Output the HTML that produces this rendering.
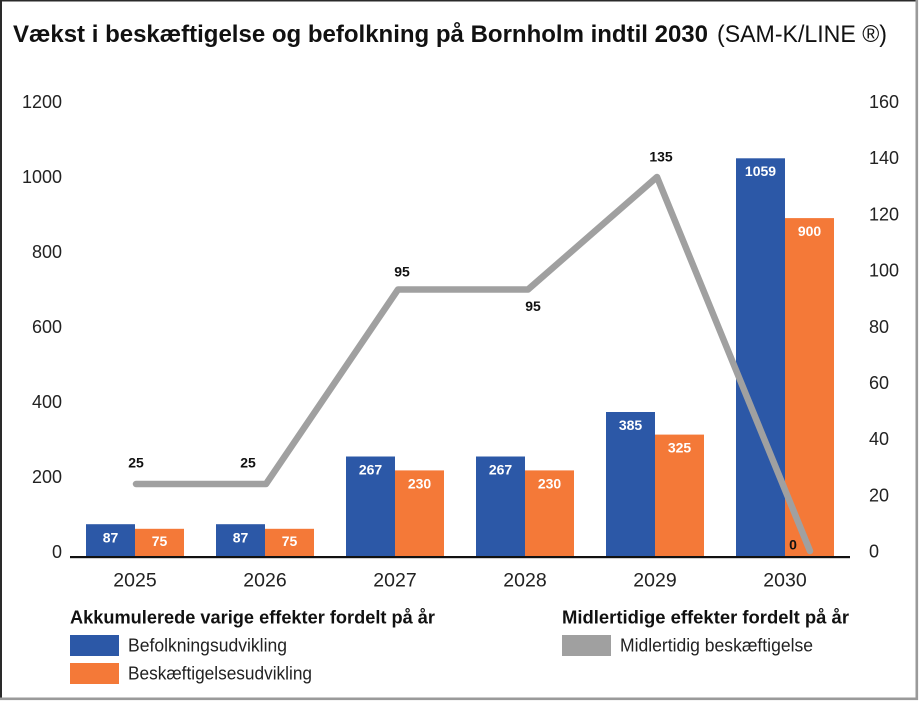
<!DOCTYPE html>
<html>
<head>
<meta charset="utf-8">
<style>
  html, body { margin: 0; padding: 0; background: #fff; }
  svg { display: block; }
  text { font-family: "Liberation Sans", "DejaVu Sans", sans-serif; }
</style>
</head>
<body>
<svg width="920" height="702" viewBox="0 0 920 702" xmlns="http://www.w3.org/2000/svg">
  <rect x="0" y="0" width="920" height="702" fill="#fff"/>
  <!-- frame -->
  <rect x="0" y="0" width="2" height="700" fill="#2a2a2a"/>
  <rect x="0" y="0" width="918" height="1.5" fill="#2a2a2a"/>
  <rect x="915.5" y="0" width="2.6" height="700" fill="#9a9a9a"/>
  <rect x="0" y="697.5" width="918" height="2.6" fill="#9a9a9a"/>

  <!-- title -->
  <text x="13" y="42" font-size="24" font-weight="bold" fill="#111" textLength="695" lengthAdjust="spacingAndGlyphs">Vækst i beskæftigelse og befolkning på Bornholm indtil 2030</text>
  <text x="717" y="42" font-size="24" fill="#111" textLength="170" lengthAdjust="spacingAndGlyphs">(SAM-K/LINE ®)</text>

  <!-- left axis labels -->
  <g font-size="18" fill="#222" text-anchor="end">
    <text x="62" y="108">1200</text>
    <text x="62" y="183">1000</text>
    <text x="62" y="258">800</text>
    <text x="62" y="333">600</text>
    <text x="62" y="408">400</text>
    <text x="62" y="483">200</text>
    <text x="62" y="558">0</text>
  </g>

  <!-- right axis labels -->
  <g font-size="18" fill="#222" text-anchor="start">
    <text x="869" y="108">160</text>
    <text x="869" y="164.2">140</text>
    <text x="869" y="220.4">120</text>
    <text x="869" y="276.6">100</text>
    <text x="869" y="332.8">80</text>
    <text x="869" y="389">60</text>
    <text x="869" y="445.2">40</text>
    <text x="869" y="501.4">20</text>
    <text x="869" y="557.6">0</text>
  </g>

  <!-- bars -->
  <g>
    <rect x="86" y="524.2" width="49" height="32.8" fill="#2c58a7"/>
    <rect x="135" y="528.8" width="49" height="28.2" fill="#f47938"/>
    <rect x="216" y="524.2" width="49" height="32.8" fill="#2c58a7"/>
    <rect x="265" y="528.8" width="49" height="28.2" fill="#f47938"/>
    <rect x="346" y="456.5" width="49" height="100.5" fill="#2c58a7"/>
    <rect x="395" y="470.4" width="49" height="86.6" fill="#f47938"/>
    <rect x="476" y="456.5" width="49" height="100.5" fill="#2c58a7"/>
    <rect x="525" y="470.4" width="49" height="86.6" fill="#f47938"/>
    <rect x="606" y="412" width="49" height="145" fill="#2c58a7"/>
    <rect x="655" y="434.6" width="49" height="122.4" fill="#f47938"/>
    <rect x="736" y="158.3" width="49" height="398.7" fill="#2c58a7"/>
    <rect x="785" y="218.1" width="49" height="338.9" fill="#f47938"/>
  </g>

  <!-- bar value labels -->
  <g font-size="14" font-weight="bold" fill="#fff" text-anchor="middle">
    <text x="110.5" y="542.5">87</text>
    <text x="159.5" y="546">75</text>
    <text x="240.5" y="542.5">87</text>
    <text x="289.5" y="546">75</text>
    <text x="370.5" y="474.5">267</text>
    <text x="419.5" y="488.5">230</text>
    <text x="500.5" y="474.5">267</text>
    <text x="549.5" y="488.5">230</text>
    <text x="630.5" y="430">385</text>
    <text x="679.5" y="452.5">325</text>
    <text x="760.5" y="176">1059</text>
    <text x="809.5" y="236">900</text>
  </g>

  <!-- axis line -->
  <rect x="70" y="556" width="780" height="2.2" fill="#111"/>

  <!-- line series -->
  <polyline points="136,484 266,484 398,289.5 528,289.5 657,177 810,551" fill="none" stroke="#a0a0a0" stroke-width="6.5" stroke-linecap="round" stroke-linejoin="round"/>

  <!-- line labels -->
  <g font-size="14" font-weight="bold" fill="#111" text-anchor="middle">
    <text x="136" y="467.7">25</text>
    <text x="248" y="467.7">25</text>
    <text x="402" y="276.7">95</text>
    <text x="533" y="311">95</text>
    <text x="661" y="161.7">135</text>
    <text x="793" y="549.5">0</text>
  </g>

  <!-- x labels -->
  <g font-size="19.5" fill="#222" text-anchor="middle">
    <text x="135" y="586.5">2025</text>
    <text x="265" y="586.5">2026</text>
    <text x="395" y="586.5">2027</text>
    <text x="525" y="586.5">2028</text>
    <text x="655" y="586.5">2029</text>
    <text x="785" y="586.5">2030</text>
  </g>

  <!-- legend -->
  <text x="70" y="623.5" font-size="18" font-weight="bold" fill="#111" textLength="365" lengthAdjust="spacingAndGlyphs">Akkumulerede varige effekter fordelt på år</text>
  <rect x="70" y="635" width="49" height="21" fill="#2c58a7"/>
  <text x="128" y="651.7" font-size="18" fill="#222" textLength="159" lengthAdjust="spacingAndGlyphs">Befolkningsudvikling</text>
  <rect x="70" y="663" width="49" height="21" fill="#f47938"/>
  <text x="128" y="679.3" font-size="18" fill="#222" textLength="184" lengthAdjust="spacingAndGlyphs">Beskæftigelsesudvikling</text>

  <text x="562" y="623.5" font-size="18" font-weight="bold" fill="#111" textLength="287" lengthAdjust="spacingAndGlyphs">Midlertidige effekter fordelt på år</text>
  <rect x="562" y="635" width="49" height="21" fill="#a0a0a0"/>
  <text x="620" y="651.7" font-size="18" fill="#222" textLength="193" lengthAdjust="spacingAndGlyphs">Midlertidig beskæftigelse</text>
</svg>
</body>
</html>
